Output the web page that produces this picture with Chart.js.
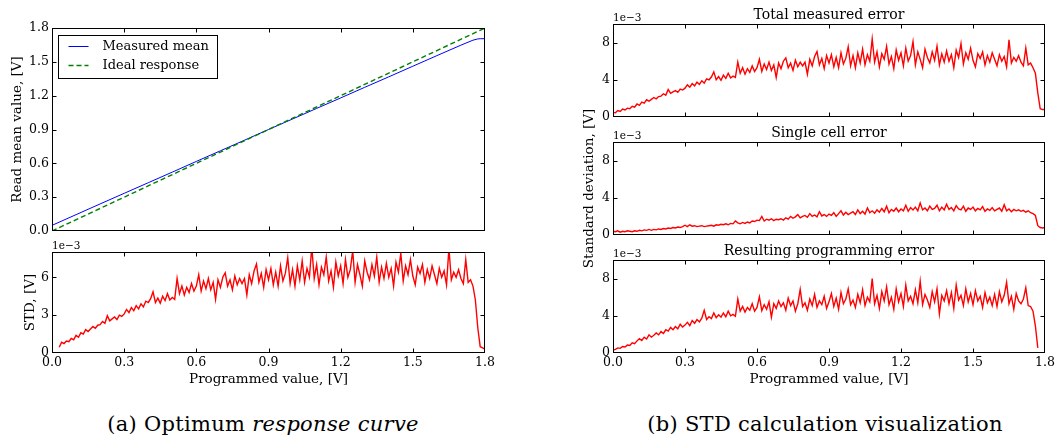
<!DOCTYPE html>
<html><head><meta charset="utf-8">
<script src="https://cdn.jsdelivr.net/npm/chart.js@4.4.1/dist/chart.umd.min.js"></script>
<style>
html,body{margin:0;padding:0;width:1062px;height:441px;overflow:hidden;background:#fff;}
canvas{position:absolute;}
.cap{position:absolute;font-family:'DejaVu Serif',serif;font-size:21px;letter-spacing:0.3px;white-space:nowrap;transform:translateX(-50%);color:#000;line-height:24px;}
</style></head><body>
<canvas id="cMean" width="500" height="245" style="left:0px;top:0px"></canvas>
<canvas id="cStd" width="500" height="150" style="left:0px;top:240px"></canvas>
<canvas id="cTotal" width="538" height="131" style="left:560px;top:0px"></canvas>
<canvas id="cSingle" width="538" height="187" style="left:560px;top:88px"></canvas>
<canvas id="cResult" width="538" height="154" style="left:560px;top:236px"></canvas>
<div class="cap" style="left:263px;top:412px">(a) Optimum <i>response curve</i></div>
<div class="cap" style="left:825px;top:412px">(b) STD calculation visualization</div>
<script>
// ---- data (STD values in units of 1e-3 V) ----
const xs = [0,0.01,0.02,0.03,0.04,0.05,0.06,0.07,0.08,0.09,
0.1,0.11,0.12,0.13,0.14,0.15,0.16,0.17,0.18,0.19,
0.2,0.21,0.22,0.23,0.24,0.25,0.26,0.27,0.28,0.29,
0.3,0.31,0.32,0.33,0.34,0.35,0.36,0.37,0.38,0.39,
0.4,0.41,0.42,0.43,0.44,0.45,0.46,0.47,0.48,0.49,
0.5,0.51,0.52,0.53,0.54,0.55,0.56,0.57,0.58,0.59,
0.6,0.61,0.62,0.63,0.64,0.65,0.66,0.67,0.68,0.69,
0.7,0.71,0.72,0.73,0.74,0.75,0.76,0.77,0.78,0.79,
0.8,0.81,0.82,0.83,0.84,0.85,0.86,0.87,0.88,0.89,
0.9,0.91,0.92,0.93,0.94,0.95,0.96,0.97,0.98,0.99,
1.0,1.01,1.02,1.03,1.04,1.05,1.06,1.07,1.08,1.09,
1.1,1.11,1.12,1.13,1.14,1.15,1.16,1.17,1.18,1.19,
1.2,1.21,1.22,1.23,1.24,1.25,1.26,1.27,1.28,1.29,
1.3,1.31,1.32,1.33,1.34,1.35,1.36,1.37,1.38,1.39,
1.4,1.41,1.42,1.43,1.44,1.45,1.46,1.47,1.48,1.49,
1.5,1.51,1.52,1.53,1.54,1.55,1.56,1.57,1.58,1.59,
1.6,1.61,1.62,1.63,1.64,1.65,1.66,1.67,1.68,1.69,
1.7,1.71,1.72,1.73,1.74,1.75,1.76,1.77,1.78,1.79,
1.8];

const meanX = [0,0.1,0.2,0.3,0.4,0.5,0.6,0.7,0.8,0.9,1.0,1.1,1.2,1.3,1.4,1.5,1.6,1.7,1.75,1.77,1.78,1.8];
const meanY = [0.05,0.145,0.24,0.334,0.428,0.522,0.617,0.711,0.805,0.9,0.993,1.087,1.18,1.274,1.367,1.461,1.555,1.648,1.692,1.703,1.705,1.705];
const idealX = [0,1.8];
const idealY = [0,1.8];

const stdLeft = [null,null,null,0.45,0.85,0.75,0.95,0.9,1.15,1.05,
1.4,1.25,1.6,1.5,1.85,1.7,1.9,2.1,1.95,2.2,
2.25,2.5,2.35,2.95,2.55,2.7,2.85,2.65,3.0,2.9,
3.1,3.45,3.2,3.6,3.35,3.75,3.5,3.9,3.65,4.1,
4.0,4.3,4.85,4.0,4.35,3.95,4.5,4.15,4.7,4.2,
4.4,4.25,5.9,4.7,5.3,4.6,5.2,4.8,5.5,4.9,
5.3,6.2,4.9,5.7,5.1,5.9,5.0,5.6,4.25,5.8,
5.2,6.0,6.35,5.3,5.8,5.0,6.1,5.4,5.9,5.5,
5.9,4.6,6.2,5.5,6.5,7.05,5.6,6.3,5.2,6.6,
5.8,6.7,5.4,6.4,5.3,6.9,5.7,6.3,7.55,5.5,
6.6,5.3,6.9,5.8,7.3,5.6,6.7,6.0,8.4,5.9,
7.0,5.4,6.8,6.2,7.6,5.7,6.5,5.2,7.2,6.1,
6.9,5.5,7.4,6.0,6.6,8.1,5.6,7.0,6.2,5.3,
7.3,6.4,5.8,7.0,6.1,7.6,5.6,6.8,5.9,7.1,
6.0,6.7,5.3,7.2,6.4,7.9,5.7,6.9,6.2,7.4,
6.1,5.4,6.8,6.3,7.0,5.6,6.6,5.9,6.9,6.2,
5.5,6.7,6.0,6.5,5.4,8.3,5.8,6.4,6.0,6.6,
5.9,5.5,7.4,5.6,5.8,5.3,4.2,2.0,0.5,0.4,
0.3];

const totalErr = [0.5,0.45,0.7,0.6,0.85,0.75,0.95,0.9,1.15,1.05,
1.4,1.25,1.6,1.5,1.85,1.7,1.9,2.1,1.95,2.2,
2.25,2.5,2.35,2.95,2.55,2.7,2.85,2.65,3.0,2.9,
3.1,3.45,3.2,3.6,3.35,3.75,3.5,3.9,3.65,4.1,
4.0,4.3,4.85,4.0,4.35,3.95,4.5,4.15,4.7,4.2,
4.4,4.25,5.9,4.7,5.3,4.6,5.2,4.8,5.5,4.9,
5.3,6.2,4.9,5.7,5.1,5.9,5.0,5.6,4.25,5.8,
5.2,6.0,6.35,5.3,5.8,5.0,6.1,5.4,5.9,5.5,
5.9,4.6,6.2,5.5,6.5,7.05,5.6,6.3,5.2,6.6,
5.8,6.7,5.4,6.4,5.3,6.9,5.7,6.3,7.55,5.5,
6.6,5.3,6.9,5.8,7.3,5.6,6.7,6.0,8.4,5.9,
7.0,5.4,6.8,6.2,7.6,5.7,6.5,5.2,7.2,6.1,
6.9,5.5,7.4,6.0,6.6,8.1,5.6,7.0,6.2,5.3,
7.3,6.4,5.8,7.0,6.1,7.6,5.6,6.8,5.9,7.1,
6.0,6.7,5.3,7.2,6.4,7.9,5.7,6.9,6.2,7.4,
6.1,5.4,6.8,6.3,7.0,5.6,6.6,5.9,6.9,6.2,
5.5,6.7,6.0,6.5,5.4,8.3,5.8,6.4,6.0,6.6,
5.9,5.5,7.4,5.6,5.8,5.3,4.7,2.6,0.9,0.8,
0.8];

const singleErr = [0.4,0.35,0.45,0.3,0.4,0.35,0.45,0.4,0.35,0.45,
0.4,0.5,0.45,0.55,0.5,0.6,0.5,0.6,0.55,0.65,
0.6,0.7,0.65,0.75,0.7,0.8,0.75,0.85,0.8,0.9,
1.05,0.9,1.1,0.95,1.0,0.9,0.95,1.0,0.9,0.95,
1.0,1.05,0.95,1.1,1.05,1.15,1.1,1.2,1.1,1.25,
1.2,1.5,1.3,1.2,1.35,1.25,1.4,1.3,1.5,1.45,
1.6,1.55,2.0,1.5,1.7,1.6,1.75,1.55,1.7,1.65,
1.75,1.6,1.85,1.7,2.0,1.8,1.95,2.2,1.85,2.0,
2.1,1.9,2.3,2.0,2.15,1.95,2.5,2.05,2.2,2.0,
2.25,2.1,2.4,2.0,2.3,2.6,2.15,2.45,2.2,2.35,
2.5,2.2,2.7,2.3,2.55,2.25,2.9,2.4,2.6,2.35,
2.7,2.45,2.85,2.5,3.1,2.4,2.75,2.55,2.9,2.5,
2.8,2.6,3.2,2.55,2.95,2.7,3.0,2.6,3.45,2.7,
2.9,2.6,3.1,2.75,2.85,3.2,2.6,3.0,2.7,3.3,
2.75,2.95,2.6,3.15,2.8,2.7,3.1,2.55,2.9,2.75,
3.0,2.6,2.85,2.7,3.05,2.55,2.8,2.65,2.95,2.6,
2.75,2.9,2.55,3.25,2.6,2.8,2.5,2.75,2.6,2.7,
2.55,2.65,2.45,2.6,2.4,2.3,2.1,1.0,0.8,0.75,
0.8];

const resultErr = [0.3,0.4,0.55,0.5,0.7,0.65,0.85,0.8,1.1,1.0,
1.3,1.55,1.35,1.7,1.5,1.95,1.7,1.9,2.15,1.95,
2.3,2.1,2.5,2.35,2.75,2.5,2.85,2.6,3.1,2.8,
3.0,3.3,2.95,3.5,3.2,3.6,3.35,3.75,4.6,3.6,
3.9,3.7,4.3,3.8,4.1,3.85,4.3,3.9,4.5,4.0,
4.15,3.95,5.8,4.5,5.0,4.4,4.9,4.6,5.3,4.5,
4.9,6.05,4.55,5.2,4.7,5.5,3.85,5.3,4.8,5.6,
5.0,5.4,4.6,5.9,5.1,5.6,4.5,5.3,6.85,5.0,
5.4,4.6,5.8,5.1,6.3,4.9,5.6,5.2,6.1,4.8,
5.5,6.4,5.0,5.9,4.7,6.5,5.3,5.8,6.9,5.2,
5.7,4.9,6.3,5.4,6.8,5.1,6.0,5.5,8.0,5.3,
6.2,4.8,6.6,5.6,7.1,5.2,6.0,4.7,6.9,5.5,
6.4,5.0,7.3,5.6,6.1,5.3,6.8,5.4,7.7,5.2,
6.3,5.7,4.9,6.6,5.5,6.9,4.2,6.2,5.6,6.7,
5.3,6.5,4.8,7.3,5.7,6.2,5.1,6.9,5.5,6.4,
5.2,6.7,5.6,6.1,4.9,6.5,5.4,6.0,5.1,6.3,
5.0,6.6,5.5,6.2,7.6,5.3,6.1,4.7,6.4,5.6,
5.3,5.8,7.0,5.1,5.0,4.5,2.9,0.55,null,null,
null];

const xTicks = [0,0.3,0.6,0.9,1.2,1.5,1.8];
const xTickLabels = ['0.0','0.3','0.6','0.9','1.2','1.5','1.8'];
const meanTicks = [0,0.3,0.6,0.9,1.2,1.5,1.8];
const meanTickLabels = ['0.0','0.3','0.6','0.9','1.2','1.5','1.8'];
const stdTicks = [0,3,6];
const stdTickLabels = ['0','3','6'];
const errTicks = [0,4,8];
const errTickLabels = ['0','4','8'];
const offsetText = '1e\u22123';

// ---- drawing ----
Chart.defaults.font.family = "'DejaVu Serif', serif";
Chart.defaults.font.size = 12.5;
Chart.defaults.color = '#000';

const pts = (X, Y) => X.map((x, i) => ({x: x, y: Y[i]}));

function framePlugin(yt, extra) {
  return {
    id: 'frame',
    afterDatasetsDraw(chart) {
      const ctx = chart.ctx, a = chart.chartArea;
      const sx = chart.scales.x, sy = chart.scales.y;
      const L = Math.round(a.left), R = Math.round(a.right) - 1, T = Math.round(a.top), B = Math.round(a.bottom) - 1;
      const clampX = v => Math.min(Math.max(Math.round(sx.getPixelForValue(v)), L), R) + 0.5;
      const clampY = v => Math.min(Math.max(Math.round(sy.getPixelForValue(v)), T), B) + 0.5;
      ctx.save();
      ctx.strokeStyle = '#000'; ctx.lineWidth = 1; ctx.setLineDash([]);
      ctx.beginPath();
      xTicks.forEach(v => {
        const p = clampX(v);
        ctx.moveTo(p, B + 0.5); ctx.lineTo(p, B + 0.5 - 4);
        ctx.moveTo(p, T + 0.5); ctx.lineTo(p, T + 0.5 + 4);
      });
      yt.forEach(v => {
        const p = clampY(v);
        ctx.moveTo(L + 0.5, p); ctx.lineTo(L + 0.5 + 4, p);
        ctx.moveTo(R + 0.5, p); ctx.lineTo(R + 0.5 - 4, p);
      });
      ctx.stroke();
      ctx.strokeRect(L + 0.5, T + 0.5, R - L, B - T);
      if (extra) extra(chart, ctx, a);
      ctx.restore();
    }
  };
}

function offsetLabel(chart, ctx, a) {
  ctx.font = "10.5px 'DejaVu Serif'";
  ctx.fillStyle = '#000';
  ctx.textAlign = 'left';
  ctx.textBaseline = 'alphabetic';
  ctx.fillText(offsetText, a.left, a.top - 3);
}

function legendBox(chart, ctx, a) {
  const bx = Math.round(a.left + 6) + 0.5, by = Math.round(a.top + 7) + 0.5;
  ctx.fillStyle = '#fff';
  ctx.fillRect(bx, by, 159, 43);
  ctx.strokeStyle = '#000'; ctx.lineWidth = 1;
  ctx.strokeRect(bx, by, 159, 43);
  ctx.font = "13px 'DejaVu Serif'";
  ctx.textBaseline = 'middle'; ctx.textAlign = 'left';
  chart.data.datasets.forEach((ds, i) => {
    const y = by + 11 + i * 19;
    ctx.strokeStyle = ds.borderColor; ctx.lineWidth = ds.borderWidth;
    ctx.setLineDash(ds.borderDash || []);
    ctx.beginPath(); ctx.moveTo(bx + 10, y); ctx.lineTo(bx + 30, y); ctx.stroke();
    ctx.setLineDash([]);
    ctx.fillStyle = '#000';
    ctx.fillText(ds.label, bx + 44, y);
  });
}

function redSet(Y) {
  return {data: pts(xs, Y), borderColor: '#ff0000', borderWidth: 1.4, pointRadius: 0, tension: 0, fill: false, spanGaps: false};
}

function makeChart(id, datasets, o) {
  const scales = {
    x: {type: 'linear', min: 0, max: 1.8,
      afterBuildTicks: s => { s.ticks = xTicks.map(v => ({value: v})); },
      afterFit: s => { s.height = o.xHeight; },
      grid: {display: false, drawTicks: false}, border: {display: false},
      ticks: {display: !!o.xTitle, padding: 2, maxRotation: 0, autoSkip: false, callback: (v, i) => xTickLabels[i]},
      title: {display: !!o.xTitle, text: o.xTitle || '', font: {size: 13.5}, padding: {top: 0, bottom: 2.9}}},
    y: {type: 'linear', min: 0, max: o.yMax,
      afterBuildTicks: s => { s.ticks = o.yt.map(v => ({value: v})); },
      afterFit: s => { s.width = o.yWidth; },
      grid: {display: false, drawTicks: false}, border: {display: false},
      ticks: {padding: 3, autoSkip: false, callback: (v, i) => o.yl[i]},
      title: {display: !!o.yTitle, text: o.yTitle || '', font: {size: 13.5}, padding: {top: o.yTitlePad || 0, bottom: 0}}}
  };
  if (o.rightDummy) {
    scales.yR = {position: 'right', display: true, grid: {display: false, drawTicks: false}, border: {display: false},
      ticks: {display: false}, afterFit: s => { s.width = o.rightDummy; }};
  }
  return new Chart(document.getElementById(id), {
    type: 'line',
    data: {datasets: datasets},
    options: {
      responsive: false, devicePixelRatio: 1, animation: false, events: [],
      layout: {padding: o.padding},
      plugins: {
        legend: {display: false}, tooltip: {enabled: false},
        title: {display: !!o.title, text: o.title || '', color: '#000', font: {size: 14, weight: 'normal'}, padding: {top: 6.5, bottom: 0.7}}
      },
      scales: scales
    },
    plugins: [framePlugin(o.yt, o.extra)]
  });
}

makeChart('cMean', [
  {label: 'Measured mean', data: pts(meanX, meanY), borderColor: '#0000ff', borderWidth: 1, pointRadius: 0, tension: 0, order: 1},
  {label: 'Ideal response', data: pts(idealX, idealY), borderColor: '#008000', borderWidth: 1.4, borderDash: [5, 3], pointRadius: 0, tension: 0, order: 0}
], {padding: {top: 28, left: 0, right: 15, bottom: 14}, yWidth: 52, xHeight: 0, yMax: 1.8,
  yt: meanTicks, yl: meanTickLabels, yTitle: 'Read mean value, [V]', yTitlePad: 9.4, extra: legendBox});

makeChart('cStd', [redSet(stdLeft)],
  {padding: {top: 12, left: 0, right: 15, bottom: 0}, yWidth: 52, xHeight: 37, yMax: 8,
  yt: stdTicks, yl: stdTickLabels, yTitle: 'STD, [V]', yTitlePad: 21.9, xTitle: 'Programmed value, [V]', extra: offsetLabel});

makeChart('cTotal', [redSet(totalErr)],
  {padding: {top: 0, left: 0, right: 0, bottom: 14}, yWidth: 53, rightDummy: 53, xHeight: 0, yMax: 10,
  yt: errTicks, yl: errTickLabels, title: 'Total measured error', extra: offsetLabel});

makeChart('cSingle', [redSet(singleErr)],
  {padding: {top: 30, left: 0, right: 0, bottom: 40}, yWidth: 53, rightDummy: 53, xHeight: 0, yMax: 10,
  yt: errTicks, yl: errTickLabels, title: 'Single cell error', yTitle: 'Standard deviation, [V]', yTitlePad: 20.9, extra: offsetLabel});

makeChart('cResult', [redSet(resultErr)],
  {padding: {top: 0, left: 0, right: 0, bottom: 0}, yWidth: 53, rightDummy: 53, xHeight: 37, yMax: 10,
  yt: errTicks, yl: errTickLabels, title: 'Resulting programming error', xTitle: 'Programmed value, [V]', extra: offsetLabel});
</script>
</body></html>
